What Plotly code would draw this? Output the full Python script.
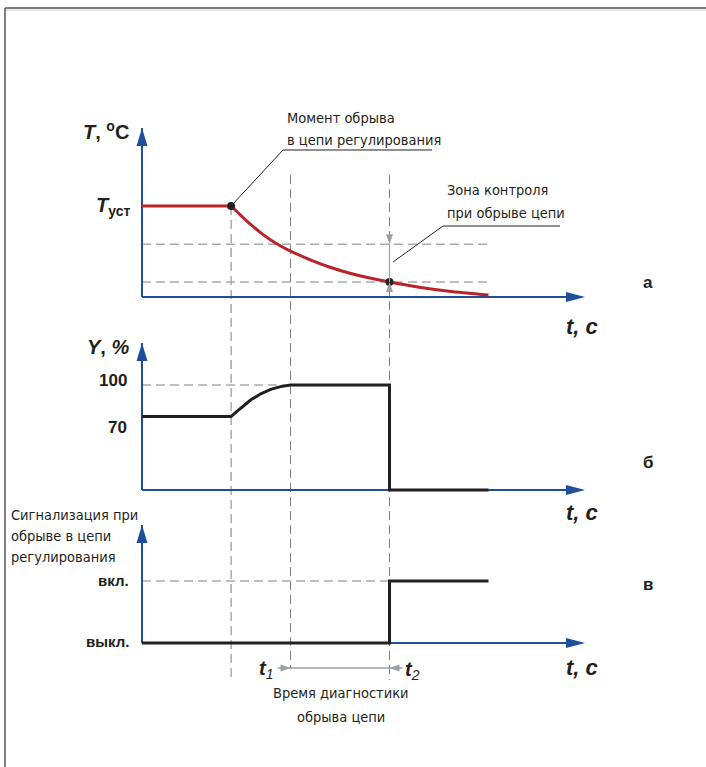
import plotly.graph_objects as go

# ---------------- data ----------------
t_break, t_1, t_2, t_end = 9, 15, 25, 35
t_axis_tip = 44.75

t_hold = [0, 9]
temp_hold = [100, 100]
t_temp = [9, 10, 11, 12, 13, 14, 15, 17, 19, 21, 23, 25, 28, 31, 35]
temp = [100, 89.5, 79.5, 70.5, 62.7, 56.1, 50.5, 40.9, 32.7, 26.1, 20.8, 16.5, 10.8, 6.4, 2.2]
T_set = 100
zone_hi, zone_lo = 58, 16.5

t_out = [0, 9, 9.5, 10, 11, 12, 13, 14, 15, 25, 25, 35]
out = [70, 70, 74.2, 78.4, 85.9, 91.6, 95.8, 98.5, 100, 100, 0, 0]

t_sig = [0, 25, 25, 35]
sig = [0, 0, 1, 1]
sig_labels = ["выкл.", "вкл."]

# ---------------- styling ----------------
W, H = 706, 767
BLUE = "#1d4f9a"
RED = "#b8242c"
BLACK = "#231f20"
GREY_H = "#a9abae"
GREY_V = "#7f7f7f"
GREY_A = "#9aa0a4"
NARROW = "Liberation Sans Narrow, DejaVu Sans Condensed, Roboto, Liberation Sans"
BOLD = "Liberation Sans, Arial, DejaVu Sans"

X_RANGE = [-14.343, 56.97]
Y_RANGES = {"y": [-516.5, 326.4], "y2": [-263.8, 466.7], "y3": [-2.0, 10.371]}


def px(x):
    return x / W


def py(y):
    return 1 - y / H


fig = go.Figure()

# curves
fig.add_trace(go.Scatter(x=t_hold, y=temp_hold, mode="lines", yaxis="y",
                         line=dict(color=RED, width=3), hoverinfo="skip"))
fig.add_trace(go.Scatter(x=t_temp, y=temp, mode="lines", yaxis="y",
                         line=dict(color=RED, width=3, shape="spline", smoothing=0.8), hoverinfo="skip"))
fig.add_trace(go.Scatter(x=[t_break, t_2], y=[T_set, zone_lo], mode="markers", yaxis="y",
                         marker=dict(color=BLACK, size=8), hoverinfo="skip"))
fig.add_trace(go.Scatter(x=t_out, y=out, mode="lines", yaxis="y2",
                         line=dict(color=BLACK, width=3), hoverinfo="skip"))
fig.add_trace(go.Scatter(x=t_sig, y=sig, mode="lines", yaxis="y3",
                         line=dict(color=BLACK, width=3), hoverinfo="skip"))

shapes = []
annots = []

XS = (X_RANGE[1] - X_RANGE[0]) / W  # data units per pixel


def arrowhead(x, y, yref, direction, length, width, color):
    ys = (Y_RANGES[yref][1] - Y_RANGES[yref][0]) / H
    h = width / 2
    if direction == "up":
        pts = [(-h, -length), (0, 0), (h, -length)]
    elif direction == "down":
        pts = [(-h, length), (0, 0), (h, length)]
    elif direction == "right":
        pts = [(-length, -h), (0, 0), (-length, h)]
    else:
        pts = [(length, -h), (0, 0), (length, h)]
    xs = [x + a * XS for a, b in pts] + [x + pts[0][0] * XS]
    yy = [y + b * ys for a, b in pts] + [y + pts[0][1] * ys]
    fig.add_trace(go.Scatter(x=xs, y=yy, yaxis=yref, mode="lines", fill="toself",
                             fillcolor=color, line=dict(width=0, color=color), hoverinfo="skip"))


# frame
shapes.append(dict(type="line", xref="paper", yref="paper", x0=px(5), x1=1, y0=py(8), y1=py(8),
                   line=dict(color="#555", width=1.5)))
shapes.append(dict(type="line", xref="paper", yref="paper", x0=px(5), x1=1, y0=py(10), y1=py(10),
                   line=dict(color="#ccc", width=1)))
shapes.append(dict(type="line", xref="paper", yref="paper", x0=px(5), x1=px(5), y0=py(8), y1=0,
                   line=dict(color="#555", width=1.5)))

# vertical guides
for tv, ytop, ybot in [(t_break, 206, 677), (t_1, 175, 669), (t_2, 175, 680)]:
    shapes.append(dict(type="line", xref="x", yref="paper", x0=tv, x1=tv, y0=py(ytop), y1=py(ybot),
                       line=dict(color=GREY_V, width=1, dash="9px,5px"), layer="below"))

# horizontal guides
for yref, yv, tx in [("y", zone_hi, t_end), ("y", zone_lo, t_end), ("y", T_set, t_break),
                     ("y2", 100, t_1), ("y3", 1, t_2)]:
    shapes.append(dict(type="line", xref="x", yref=yref, x0=0, x1=tx, y0=yv, y1=yv,
                       line=dict(color=GREY_H, width=1.5, dash="9px,5px"), layer="below"))

# axes
for yref, ytip in [("y", 185.7), ("y2", 140), ("y3", 1.903)]:
    shapes.append(dict(type="line", xref="x", yref=yref, x0=0, x1=0, y0=0, y1=ytip,
                       line=dict(color=BLUE, width=2), layer="below"))
    shapes.append(dict(type="line", xref="x", yref=yref, x0=0, x1=t_axis_tip - 1, y0=0, y1=0,
                       line=dict(color=BLUE, width=2), layer="below"))
    arrowhead(0, ytip, yref, "up", 18, 11, BLUE)
    arrowhead(t_axis_tip, 0, yref, "right", 19, 10, BLUE)

# zone arrows
shapes.append(dict(type="line", xref="x", yref="y", x0=t_2, x1=t_2, y0=zone_lo, y1=zone_hi,
                   line=dict(color=GREY_A, width=1.2)))
arrowhead(t_2, zone_hi, "y", "down", 10, 7, GREY_A)
arrowhead(t_2, zone_lo, "y", "up", 10, 7, GREY_A)

# diagnostic time dimension
dim_y = -0.403  # panel-c value at the dimension line (668 px)
shapes.append(dict(type="line", xref="x", yref="y3", x0=t_1 - 1.3, x1=t_2 + 1.3, y0=dim_y, y1=dim_y,
                   line=dict(color=GREY_A, width=1.5)))
arrowhead(t_1, dim_y, "y3", "right", 10, 7, GREY_A)
arrowhead(t_2, dim_y, "y3", "left", 10, 7, GREY_A)

# leader lines
for (x0, y0, x1, y1) in [(283, 150, 232, 205), (283, 150, 432, 150),
                         (443, 226, 393, 262), (443, 226, 560, 226)]:
    shapes.append(dict(type="line", xref="paper", yref="paper", x0=px(x0), y0=py(y0), x1=px(x1), y1=py(y1),
                       line=dict(color=BLACK, width=1)))


def txt(text, x, y, size, family=NARROW, xanchor="left", color=BLACK):
    annots.append(dict(text=text, x=px(x), y=py(y), xref="paper", yref="paper", showarrow=False,
                       xanchor=xanchor, yanchor="middle", font=dict(family=family, size=size, color=color)))


FS = 14.5
txt("Момент обрыва", 285, 118, FS)
txt("в цепи регулирования", 285, 140, FS)
txt("Зона контроля", 445, 190, FS)
txt("при обрыве цепи", 445, 213, FS)
txt("Сигнализация при", 9, 515, FS)
txt("обрыве в цепи", 9, 536, FS)
txt("регулирования", 9, 557, FS)
txt("Время диагностики", 341, 693, FS, xanchor="center")
txt("обрыва цепи", 341, 717, FS, xanchor="center")

txt("<b><i>T</i>, <sup>o</sup>C</b>", 131, 131, 20, BOLD, "right")
txt("<b><i>T</i><sub>уст</sub></b>", 132, 206, 20, BOLD, "right")
txt("<b><i>Y</i>, <i>%</i></b>", 131, 347, 20, BOLD, "right")
txt("<b>100</b>", 129, 380, 17, BOLD, "right")
txt("<b>70</b>", 129, 427, 17, BOLD, "right")
txt("<b>%s</b>" % sig_labels[1], 131, 580, 15, BOLD, "right")
txt("<b>%s</b>" % sig_labels[0], 131, 641, 15, BOLD, "right")
for yy in [327, 512, 667]:
    txt("<b><i>t, c</i></b>", 582, yy, 22, BOLD, "center")
for lab, yy in [("а", 282), ("б", 462), ("в", 584)]:
    txt("<b>%s</b>" % lab, 648, yy, 17, BOLD, "center")
txt("<b><i>t</i></b><sub><i>1</i></sub>", 266, 669, 20, BOLD, "center")
txt("<b><i>t</i></b><sub><i>2</i></sub>", 413, 670, 20, BOLD, "center")

fig.update_layout(
    width=W, height=H, margin=dict(l=0, r=0, t=0, b=0), autosize=False,
    paper_bgcolor="white", plot_bgcolor="white", showlegend=False,
    xaxis=dict(range=X_RANGE, visible=False, domain=[0, 1], fixedrange=True),
    yaxis=dict(range=Y_RANGES["y"], visible=False, domain=[0, 1], fixedrange=True),
    yaxis2=dict(range=Y_RANGES["y2"], visible=False, overlaying="y", fixedrange=True),
    yaxis3=dict(range=Y_RANGES["y3"], visible=False, overlaying="y", fixedrange=True),
    shapes=shapes, annotations=annots,
)

fig.write_html("out.html", config={"displayModeBar": False})
